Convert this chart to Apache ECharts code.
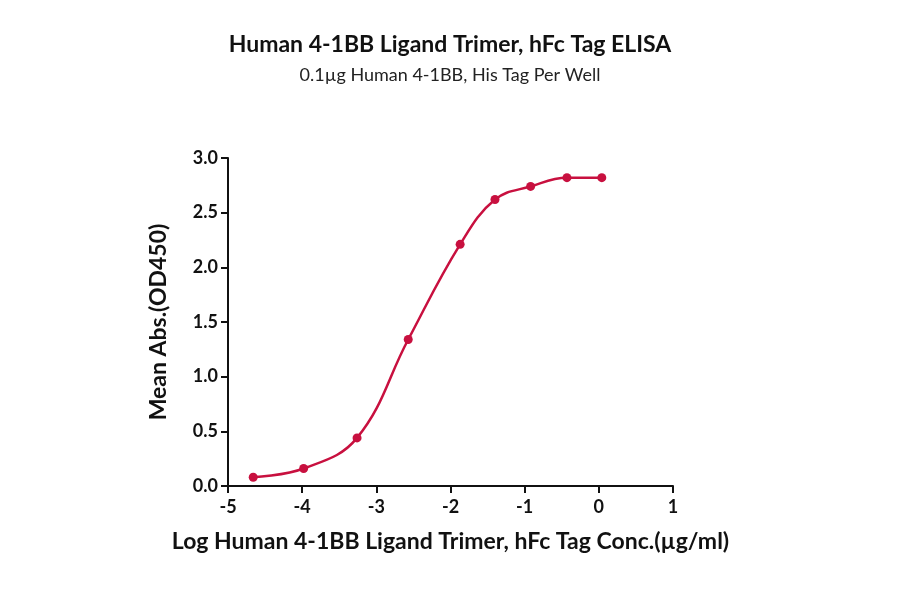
<!DOCTYPE html>
<html>
<head>
<meta charset="utf-8">
<script src="https://cdn.jsdelivr.net/npm/echarts@6/dist/echarts.min.js"></script>
<style>html,body{margin:0;background:#fff}#chart{width:900px;height:594px}</style>
</head>
<body>
<div id="chart"></div>
<script>
var logConc = [-4.66, -3.98, -3.26, -2.57, -1.87, -1.40, -0.92, -0.43, 0.04];
var meanAbs = [0.08, 0.16, 0.44, 1.34, 2.21, 2.62, 2.74, 2.82, 2.82];
var xTicks = [-5, -4, -3, -2, -1, 0, 1];
var yTicks = ['0.0', '0.5', '1.0', '1.5', '2.0', '2.5', '3.0'];

var pts = logConc.map(function (x, i) { return [x, meanAbs[i]]; });
var red = '#c8103f';
var font = 'Lato';

var chart = echarts.init(document.getElementById('chart'));
chart.setOption({
    title: {
        text: 'Human 4-1BB Ligand Trimer, hFc Tag ELISA',
        subtext: '0.1\u00b5g Human 4-1BB, His Tag Per Well',
        left: 'center',
        top: 28,
        itemGap: 10,
        textStyle: { fontFamily: font, fontWeight: 'bold', fontSize: 23, color: '#111' },
        subtextStyle: { fontFamily: font, fontSize: 18, color: '#222' }
    },
    grid: { left: 228, right: 227, top: 158, bottom: 108 },
    xAxis: {
        type: 'value', min: -5, max: 1, interval: 1,
        name: 'Log Human 4-1BB Ligand Trimer, hFc Tag Conc.(\u00b5g/ml)',
        nameLocation: 'middle', nameGap: 44,
        nameTextStyle: { fontFamily: font, fontWeight: 'bold', fontSize: 23, color: '#111' },
        axisLine: { onZero: false, lineStyle: { color: '#111', width: 2 } },
        axisTick: { length: 7, lineStyle: { width: 2 } },
        axisLabel: { fontFamily: font, fontWeight: 'bold', fontSize: 18, color: '#111', margin: 12,
            formatter: function (v) { return xTicks.indexOf(v) >= 0 ? String(v) : ''; } },
        splitLine: { show: false }
    },
    yAxis: {
        type: 'value', min: 0, max: 3, interval: 0.5,
        name: 'Mean Abs.(OD450)',
        nameLocation: 'middle', nameGap: 58,
        nameTextStyle: { fontFamily: font, fontWeight: 'bold', fontSize: 23, color: '#111' },
        axisLine: { show: true, onZero: false, lineStyle: { color: '#111', width: 2 } },
        axisTick: { show: true, length: 7, lineStyle: { width: 2 } },
        axisLabel: { fontFamily: font, fontWeight: 'bold', fontSize: 18, color: '#111', margin: 10,
            formatter: function (v) { return yTicks[Math.round(v * 2)]; } },
        splitLine: { show: false }
    },
    series: [{
        type: 'line',
        data: pts,
        smooth: 0.4,
        symbol: 'circle',
        symbolSize: 9,
        itemStyle: { color: red },
        lineStyle: { color: red, width: 2.5 }
    }]
});
</script>
</body>
</html>
